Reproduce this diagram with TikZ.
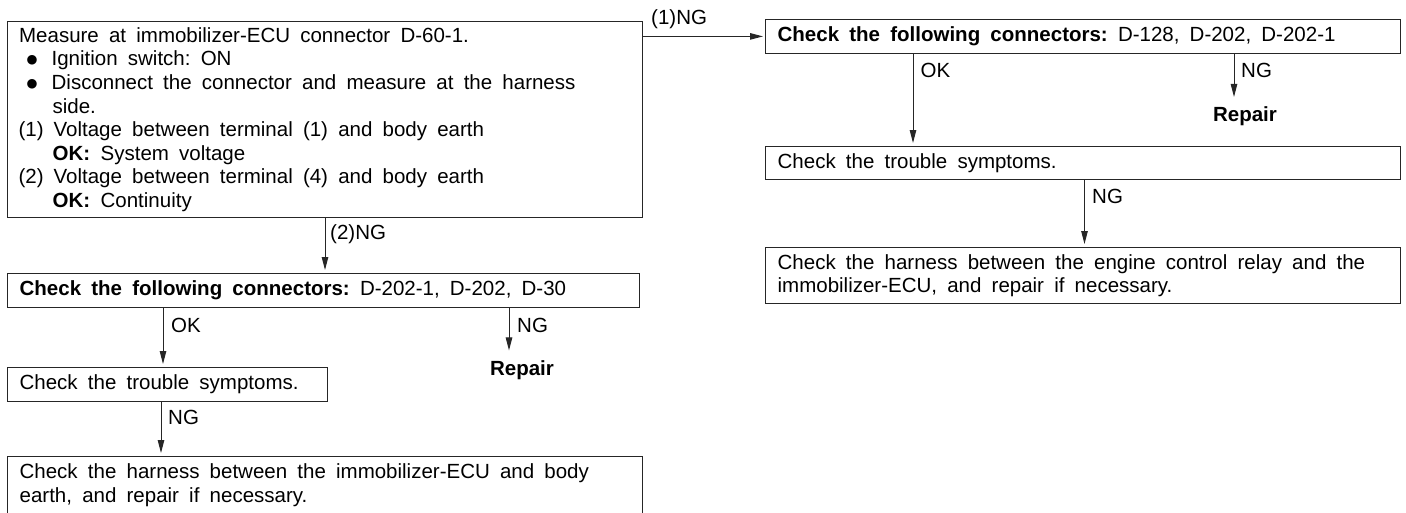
\documentclass[tikz,border=0pt]{standalone}
\usepackage{fontspec}
\setmainfont{Liberation Sans}
\newfontfamily\djv{DejaVu Sans}
\usepackage{graphicx}
\usetikzlibrary{arrows.meta}
\newcommand{\mfont}{\fontsize{20.5}{23.6}\selectfont\frenchspacing}
\newcommand{\wsp}{\spaceskip=10.2pt plus 2pt minus 1pt\xspaceskip=10.2pt\relax}
\newcommand{\bul}{\makebox[25pt][l]{\raisebox{2pt}{\djv\fontsize{12.5}{12.5}\selectfont ●}}}
\begin{document}
\begin{tikzpicture}[x=1pt,y=-1pt,
  box/.style={draw=black!85, line width=1.3pt, anchor=north west, inner xsep=12pt, inner ysep=0pt, align=left, font=\mfont},
  lab/.style={anchor=base west, inner sep=0pt, font=\mfont},
  rep/.style={anchor=base, inner sep=0pt, font=\mfont\bfseries},
  arr/.style={draw=black!85, line width=1pt, -{Triangle[length=13pt,width=6.5pt]}, shorten >=3pt},
]
\useasboundingbox (0,0) rectangle (1406,512);
\clip (0,0) rectangle (1406,512);

% left column boxes
\node[box, text width=611pt, minimum height=196pt] (b1) at (7,21) {\wsp
\hspace*{-0.5pt}Measure at immobilizer-ECU connector D-60-1.\\
\hspace*{7pt}\bul Ignition switch: ON\\
\hspace*{7pt}\bul Disconnect the connector and measure at the harness\\
\hspace*{33pt}side.\\
\hspace*{-1pt}\makebox[35pt][l]{(1)}Voltage between terminal (1) and body earth\\
\hspace*{33pt}\makebox[48pt][l]{\textbf{OK:}}System voltage\\
\hspace*{-1pt}\makebox[35pt][l]{(2)}Voltage between terminal (4) and body earth\\
\hspace*{33pt}\makebox[48pt][l]{\textbf{OK:}}Continuity};

\node[box, text width=608pt, minimum height=34pt] (b2) at (7,273)
  {\wsp\textbf{Check the following connectors:} D-202-1, D-202, D-30};
\node[box, text width=296pt, minimum height=34pt] (b3) at (7,367)
  {\wsp Check the trouble symptoms.};
\node[box, text width=611pt, minimum height=57pt] (b4) at (7,456)
  {\wsp Check the harness between the immobilizer-ECU and body\\ earth, and repair if necessary.};

% right column boxes
\node[box, text width=611pt, minimum height=33.5pt] (r1) at (765,19)
  {\wsp\textbf{Check the following connectors:} D-128, D-202, D-202-1};
\node[box, text width=611pt, minimum height=33pt] (r2) at (765,146)
  {\wsp Check the trouble symptoms.};
\node[box, text width=611pt, minimum height=56pt] (r3) at (765,247)
  {\wsp Check the harness between the engine control relay and the\\ immobilizer-ECU, and repair if necessary.};

% labels
\node[lab] (l1) at (651,24) {(1)NG};
\node[lab] (l2) at (330,239.5) {(2)NG};
\node[lab] (l3) at (171,332) {OK};
\node[lab] (l4) at (517,332) {NG};
\node[rep] (rep1) at (522,375.5) {Repair};
\node[lab] (l5) at (168,424.5) {NG};
\node[lab] (l6) at (920.5,77.5) {OK};
\node[lab] (l7) at (1241,77.5) {NG};
\node[rep] (rep2) at (1245,121.5) {Repair};
\node[lab] (l8) at (1092,203.5) {NG};

% x positions of vertical connectors
\coordinate (xa) at (325,0);
\coordinate (xb) at (163,0);
\coordinate (xc) at (509,0);
\coordinate (xd) at (161,0);
\coordinate (xe) at (913,0);
\coordinate (xf) at (1234,0);
\coordinate (xg) at (1084.5,0);

% connectors
\draw[arr, shorten >=2pt] (b1.east |- r1.west) -- (r1.west);
\draw[arr] (b1.south -| xa) -- (b2.north -| xa);
\draw[arr] (b2.south -| xb) -- (b3.north -| xb);
\draw[arr, shorten >=10pt] (b2.south -| xc) -- (rep1.north -| xc);
\draw[arr] (b3.south -| xd) -- (b4.north -| xd);
\draw[arr] (r1.south -| xe) -- (r2.north -| xe);
\draw[arr, shorten >=9.5pt] (r1.south -| xf) -- (rep2.north -| xf);
\draw[arr] (r2.south -| xg) -- (r3.north -| xg);
\end{tikzpicture}
\end{document}
